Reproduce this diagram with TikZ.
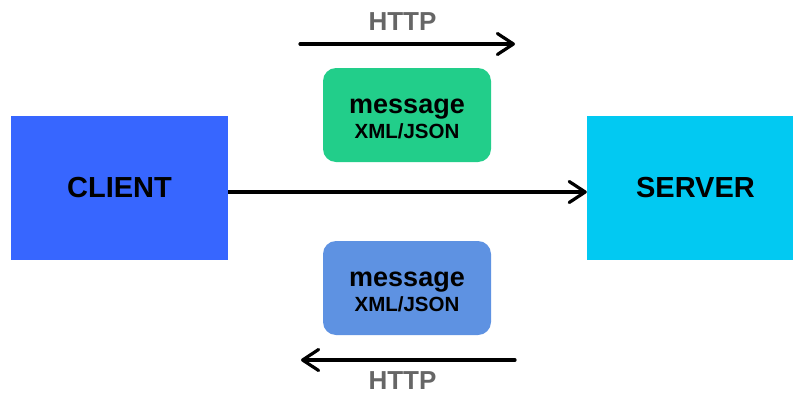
\documentclass[tikz,border=0pt]{standalone}
\usepackage{fontspec}
\setmainfont{Liberation Sans}
\usetikzlibrary{arrows.meta}
\definecolor{clientblue}{HTML}{3766FF}
\definecolor{serverblue}{HTML}{02C9F2}
\definecolor{msggreen}{HTML}{22CE8A}
\definecolor{msgblue}{HTML}{5E92E2}
\definecolor{httpgray}{HTML}{666666}
\tikzset{
  endbox/.style={fill=#1, draw=none, minimum width=217pt, minimum height=144pt, inner sep=0pt},
  endtext/.style={font=\bfseries\fontsize{29}{32}\selectfont, inner sep=0pt},
  msgbox/.style={fill=#1, draw=none, rounded corners=13pt, minimum width=168pt, minimum height=94pt, inner sep=0pt},
  msgtext/.style={anchor=base, inner sep=0pt, font=\bfseries\fontsize{27}{30}\selectfont},
  fmttext/.style={anchor=base, inner sep=0pt, font=\bfseries\fontsize{20.5}{24}\selectfont},
  conn/.style={line width=3.2pt, line cap=round, line join=round, -{Straight Barb[length=16pt, width=21pt, line width=3.2pt, line cap=round, line join=round]}},
  httplabel/.style={anchor=base, text=httpgray, font=\bfseries\fontsize{26}{30}\selectfont, inner sep=0pt},
}
\begin{document}
\begin{tikzpicture}[x=1pt,y=-1pt]
\useasboundingbox (0,0) rectangle (793,394);
\node[endbox=clientblue] (client) at (119.5,188) {};
\node[endbox=serverblue] (server) at (695.5,188) {};
\node[endtext] (ct) at (119.5,188) {CLIENT};
\node[endtext] (st) at (695.5,188) {SERVER};
\node[msgbox=msggreen] (m1) at (407,115) {};
\node[msgtext] (m1a) at (407,113) {message};
\node[fmttext] (m1b) at (407,138) {XML/JSON};
\node[msgbox=msgblue] (m2) at (407,288) {};
\node[msgtext] (m2a) at (407,286) {message};
\node[fmttext] (m2b) at (407,311) {XML/JSON};
\coordinate (t1) at (300,44);
\coordinate (t2) at (515,44);
\coordinate (b1) at (515,360);
\coordinate (b2) at (301,360);
\node[httplabel] (h1) at (402.5,30) {HTTP};
\node[httplabel] (h2) at (402.5,389) {HTTP};
\draw[conn] (t1) -- (t2);
\draw[conn] (b1) -- (b2);
\draw[conn, line cap=butt] (client.east |- 0,192) -- (server.west |- 0,192);
\end{tikzpicture}
\end{document}
